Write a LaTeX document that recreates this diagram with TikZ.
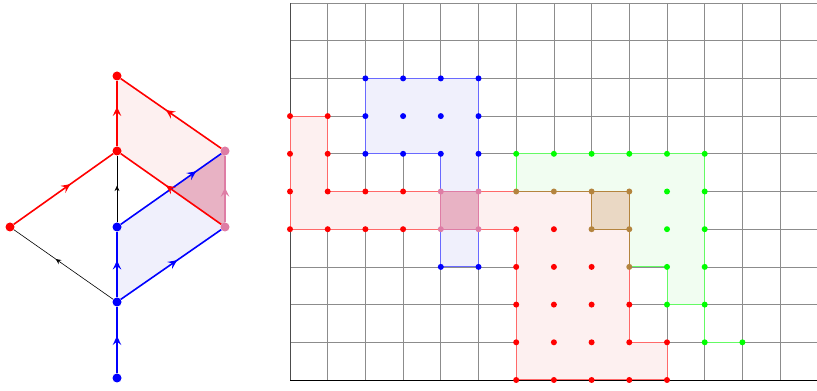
\documentclass[tikz,border=0pt]{standalone}
\usetikzlibrary{arrows.meta,decorations.markings,calc}
\definecolor{pinkc}{RGB}{222,125,165}
\definecolor{brownc}{RGB}{180,132,62}
\definecolor{redfill}{RGB}{253,240,240}
\definecolor{bluefill}{RGB}{240,240,252}
\definecolor{greenfill}{RGB}{241,253,241}
\definecolor{pinkfill}{RGB}{232,178,196}
\definecolor{brownfill}{RGB}{234,216,196}
\definecolor{redline}{RGB}{255,105,105}
\definecolor{blueline}{RGB}{105,105,255}
\definecolor{greenline}{RGB}{100,250,100}
\definecolor{gridc}{RGB}{140,140,140}
\begin{document}
\begin{tikzpicture}[x=1pt,y=1pt,
  midarrow/.style={postaction={decorate,decoration={markings,
      mark=at position #1 with {\arrow{Stealth[length=9pt,width=8.5pt,inset=3.5pt]}}}}},
  smallarrow/.style={postaction={decorate,decoration={markings,
      mark=at position #1 with {\arrow{Stealth[length=5.5pt,width=5pt,inset=2pt]}}}}},
  bigdot/.style={circle,fill=#1,inner sep=0pt,minimum size=9pt},
  redE/.style={red,line width=1.6pt},
  blueE/.style={blue,line width=1.6pt},
  pinkE/.style={pinkc,line width=1.6pt},
  blackE/.style={black,line width=0.6pt},
]
\useasboundingbox (0,0) rectangle (817,391);

% ---------- left figure ----------
\coordinate (pA) at (117,315);
\coordinate (pB) at (117,240);
\coordinate (pC) at (225,240);
\coordinate (pD) at (225,164);
\coordinate (pF) at (117,164);
\coordinate (pG) at (117,89);
\fill[redfill] (pA) -- (pB) -- (pD) -- (pC) -- cycle;
\fill[bluefill] (pF) -- (pG) -- (pD) -- (pC) -- cycle;
\fill[pinkfill] (pC) -- ($(pB)!0.5!(pD)$) -- (pD) -- cycle;

\node[bigdot=red]  (A) at (117,315) {};
\node[bigdot=red]  (B) at (117,240) {};
\node[bigdot=pinkc] (C) at (225,240) {};
\node[bigdot=pinkc] (D) at (225,164) {};
\node[bigdot=red]  (E) at (10,164) {};
\node[bigdot=blue] (F) at (117,164) {};
\node[bigdot=blue] (G) at (117,89) {};
\node[bigdot=blue] (H) at (117,13) {};

\draw[blackE,smallarrow=0.55] (F) -- (B);
\draw[blackE,smallarrow=0.58] (G) -- (E);
\draw[blueE,midarrow=0.56] (H) -- (G);
\draw[blueE,midarrow=0.56] (G) -- (F);
\draw[blueE,midarrow=0.56] (G) -- (D);
\draw[blueE,midarrow=0.75] (F) -- (C);
\draw[redE,midarrow=0.57] (E) -- (B);
\draw[redE,midarrow=0.6] (B) -- (A);
\draw[redE,midarrow=0.55] (C) -- (A);
\draw[redE,midarrow=0.55] (D) -- (B);
\draw[pinkE,midarrow=0.52] (D) -- (C);

% ---------- right figure ----------
\begin{scope}[shift={(290,11)},x=37.7pt,y=37.7pt]
  \foreach \i in {1,...,14} \draw[gridc,line width=0.7pt] (\i,0) -- (\i,10);
  \foreach \j in {1,...,10} \draw[gridc,line width=0.7pt] (0,\j) -- (14,\j);
  \draw[black,line width=0.8pt] (0,0) -- (14,0);
  \draw[black!70,line width=0.8pt] (0,0) -- (0,10);
  % fills
  \fill[redfill] (0,7) -- (1,7) -- (1,5) -- (9,5) -- (9,1) -- (10,1) -- (10,0) -- (6,0) -- (6,4) -- (0,4) -- cycle;
  \fill[bluefill] (2,8) -- (5,8) -- (5,3) -- (4,3) -- (4,6) -- (2,6) -- cycle;
  \fill[greenfill] (6,6) -- (11,6) -- (11,2) -- (10,2) -- (10,3) -- (9,3) -- (9,5) -- (6,5) -- cycle;
  \fill[pinkfill] (4,4) rectangle (5,5);
  \fill[brownfill] (8,4) rectangle (9,5);
  % outlines
  \draw[redline,line width=1pt] (0,7) -- (1,7) -- (1,5) -- (9,5) -- (9,1) -- (10,1) -- (10,0) -- (6,0) -- (6,4) -- (0,4) -- cycle;
  \draw[blueline,line width=1pt] (2,8) -- (5,8) -- (5,3) -- (4,3) -- (4,6) -- (2,6) -- cycle;
  \draw[greenline,line width=1pt] (6,5) -- (6,6) -- (11,6) -- (11,1) -- (12,1);
  \draw[greenline,line width=1pt] (9,3) -- (10,3) -- (10,2) -- (11,2);
  \draw[pinkc,line width=1pt] (4,4) rectangle (5,5);
  \draw[brownc,line width=1pt] (6,5) -- (9,5) -- (9,3);
  \draw[brownc,line width=1pt] (8,4) rectangle (9,5);
  % dots
  \foreach \p in {(0,7),(1,7),(0,6),(1,6),(0,5),(1,5),(2,5),(3,5),
                  (0,4),(1,4),(2,4),(3,4),(6,4),(7,4),
                  (6,3),(7,3),(8,3),(6,2),(7,2),(8,2),(9,2),
                  (6,1),(7,1),(8,1),(9,1),(10,1),
                  (6,0),(7,0),(8,0),(9,0),(10,0)}
    \fill[red] \p circle (3pt);
  \foreach \p in {(2,8),(3,8),(4,8),(5,8),(2,7),(3,7),(4,7),(5,7),
                  (2,6),(3,6),(4,6),(5,6),(4,3),(5,3)}
    \fill[blue] \p circle (3pt);
  \foreach \p in {(4,5),(5,5),(4,4),(5,4)}
    \fill[pinkc] \p circle (3pt);
  \foreach \p in {(6,5),(7,5),(8,5),(9,5),(8,4),(9,4),(9,3)}
    \fill[brownc] \p circle (3pt);
  \foreach \p in {(6,6),(7,6),(8,6),(9,6),(10,6),(11,6),(10,5),(11,5),
                  (10,4),(11,4),(10,3),(11,3),(10,2),(11,2),(11,1),(12,1)}
    \fill[green] \p circle (3pt);
\end{scope}
\end{tikzpicture}
\end{document}
